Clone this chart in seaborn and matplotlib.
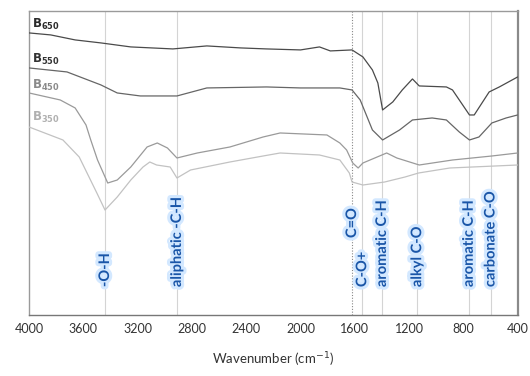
import matplotlib
matplotlib.use("Agg")
import matplotlib.pyplot as plt
import matplotlib.patheffects as pe
import seaborn as sns
import pandas as pd
import numpy as np

# ---- data (arbitrary transmittance units) ----
b650_wn = [4000, 3840, 3660, 3470, 3250, 2940, 2690, 2440, 2250, 2000, 1860, 1780, 1620, 1540,
           1470, 1430, 1395, 1320, 1250, 1175, 1125, 925, 880, 755, 720, 610, 535, 400]
b650_t = [282, 280, 275, 272, 268, 266, 269, 267, 266, 265, 268, 264, 265, 258,
          245, 232, 205, 213, 225, 236, 229, 228, 225, 200, 200, 223, 228, 238]

b550_wn = [4000, 3720, 3470, 3350, 3180, 2910, 2690, 2250, 2000, 1710, 1620, 1560, 1470, 1395,
           1270, 1175, 1030, 925, 830, 755, 685, 590, 485, 400]
b550_t = [247, 243, 230, 222, 219, 219, 227, 228, 227, 227, 225, 215, 185, 175,
          185, 195, 197, 195, 183, 175, 178, 192, 197, 200]

b450_wn = [4000, 3770, 3660, 3580, 3545, 3495, 3420, 3350, 3250, 3130, 3055, 2980, 2910, 2760,
           2520, 2275, 2150, 1805, 1710, 1660, 1615, 1575, 1540, 1365, 1290, 1125, 880, 590, 400]
b450_t = [222, 215, 207, 190, 175, 155, 132, 135, 148, 168, 172, 167, 157, 162,
          168, 178, 182, 180, 172, 165, 152, 147, 152, 162, 157, 150, 155, 159, 162]

b350_wn = [4000, 3750, 3630, 3500, 3440, 3350, 3250, 3160, 3110, 3060, 2960, 2910, 2810, 2520,
           2275, 2150, 1860, 1710, 1640, 1620, 1540, 1380, 1230, 1130, 900, 400]
b350_t = [188, 175, 158, 122, 105, 118, 135, 148, 153, 150, 148, 137, 145, 153,
          159, 162, 160, 155, 142, 133, 130, 133, 138, 142, 147, 150]

series_names = ["B650", "B550", "B450", "B350"]
series_sub = ["650", "550", "450", "350"]

band_wn = [3440, 2910, 1620, 1545, 1400, 1140, 760, 600]
band_labels = ["-O-H", "aliphatic -C-H", "C=O", "C-O+", "aromatic C-H", "alkyl C-O",
               "aromatic C-H", "carbonate C-O"]

tick_vals = [4000, 3600, 3200, 2800, 2400, 2000, 1600, 1200, 800, 400]

# ---- build table ----
frames = []
for name, wn, t in zip(series_names, [b650_wn, b550_wn, b450_wn, b350_wn],
                       [b650_t, b550_t, b450_t, b350_t]):
    frames.append(pd.DataFrame({"wn": wn, "t": t, "series": name}))
df = pd.concat(frames, ignore_index=True)

sns.set_style("white")
plt.rcParams["font.family"] = ["Lato", "DejaVu Sans"]

line_colors = {"B650": "#4a4a4a", "B550": "#666666", "B450": "#9a9a9a", "B350": "#c2c2c2"}
label_colors = {"B650": "#2a2a2a", "B550": "#333333", "B450": "#8a8a8a", "B350": "#b0b0b0"}

fig = plt.figure(figsize=(5.3, 3.76), dpi=100)
ax = fig.add_axes([0.0547, 0.162, 0.922, 0.809])

# band lines
for w, lab in zip(band_wn, band_labels):
    if lab == "C=O":
        ax.axvline(w, color="#888888", lw=0.8, ls=(0, (1, 1.5)), zorder=1)
    else:
        ax.axvline(w, color="#d4d4d4", lw=0.8, zorder=1)

sns.lineplot(data=df, x="wn", y="t", hue="series", palette=line_colors,
             estimator=None, sort=True, lw=0.9, legend=False, ax=ax, zorder=3)

ax.set_xlim(4000, 400)
ax.set_ylim(0, 304)

# band labels
glow = [pe.withStroke(linewidth=4.5, foreground="#d3e8ff")]
for w, lab in zip(band_wn, band_labels):
    y0 = 77 if lab == "C=O" else 28
    ax.text(w, y0, lab, rotation=90, ha="center", va="bottom", fontsize=10.5,
            fontweight="bold", color="#1a56a8", path_effects=glow, zorder=5)

# series labels
label_y = [290, 255, 229, 198]
for name, sub, y in zip(series_names, series_sub, label_y):
    ax.text(3975, y, r"$\mathbf{B}_{\mathbf{" + sub + "}}$", ha="left", va="center",
            fontsize=8.5, color=label_colors[name], zorder=5)

# axes styling
ax.set_xticks(tick_vals)
ax.set_xticklabels([str(v) for v in tick_vals])
ax.set_xticks(np.arange(400, 4001, 200), minor=True)
ax.tick_params(axis="x", which="both", direction="inout", length=4, width=0.8,
               color="#666666", labelsize=9, labelcolor="#333333", pad=4)
ax.tick_params(axis="x", which="minor", length=3)
ax.set_yticks([])
ax.set_ylabel("")
ax.set_xlabel("Wavenumber (cm$^{-1}$)", fontsize=9.5, color="#333333", labelpad=11)

for side, col, lw in [("left", "#9a9a9a", 1.0), ("top", "#9a9a9a", 1.0),
                      ("right", "#8a8a8a", 1.6), ("bottom", "#777777", 1.0)]:
    ax.spines[side].set_visible(True)
    ax.spines[side].set_color(col)
    ax.spines[side].set_linewidth(lw)

fig.savefig("out.png", dpi=100)
